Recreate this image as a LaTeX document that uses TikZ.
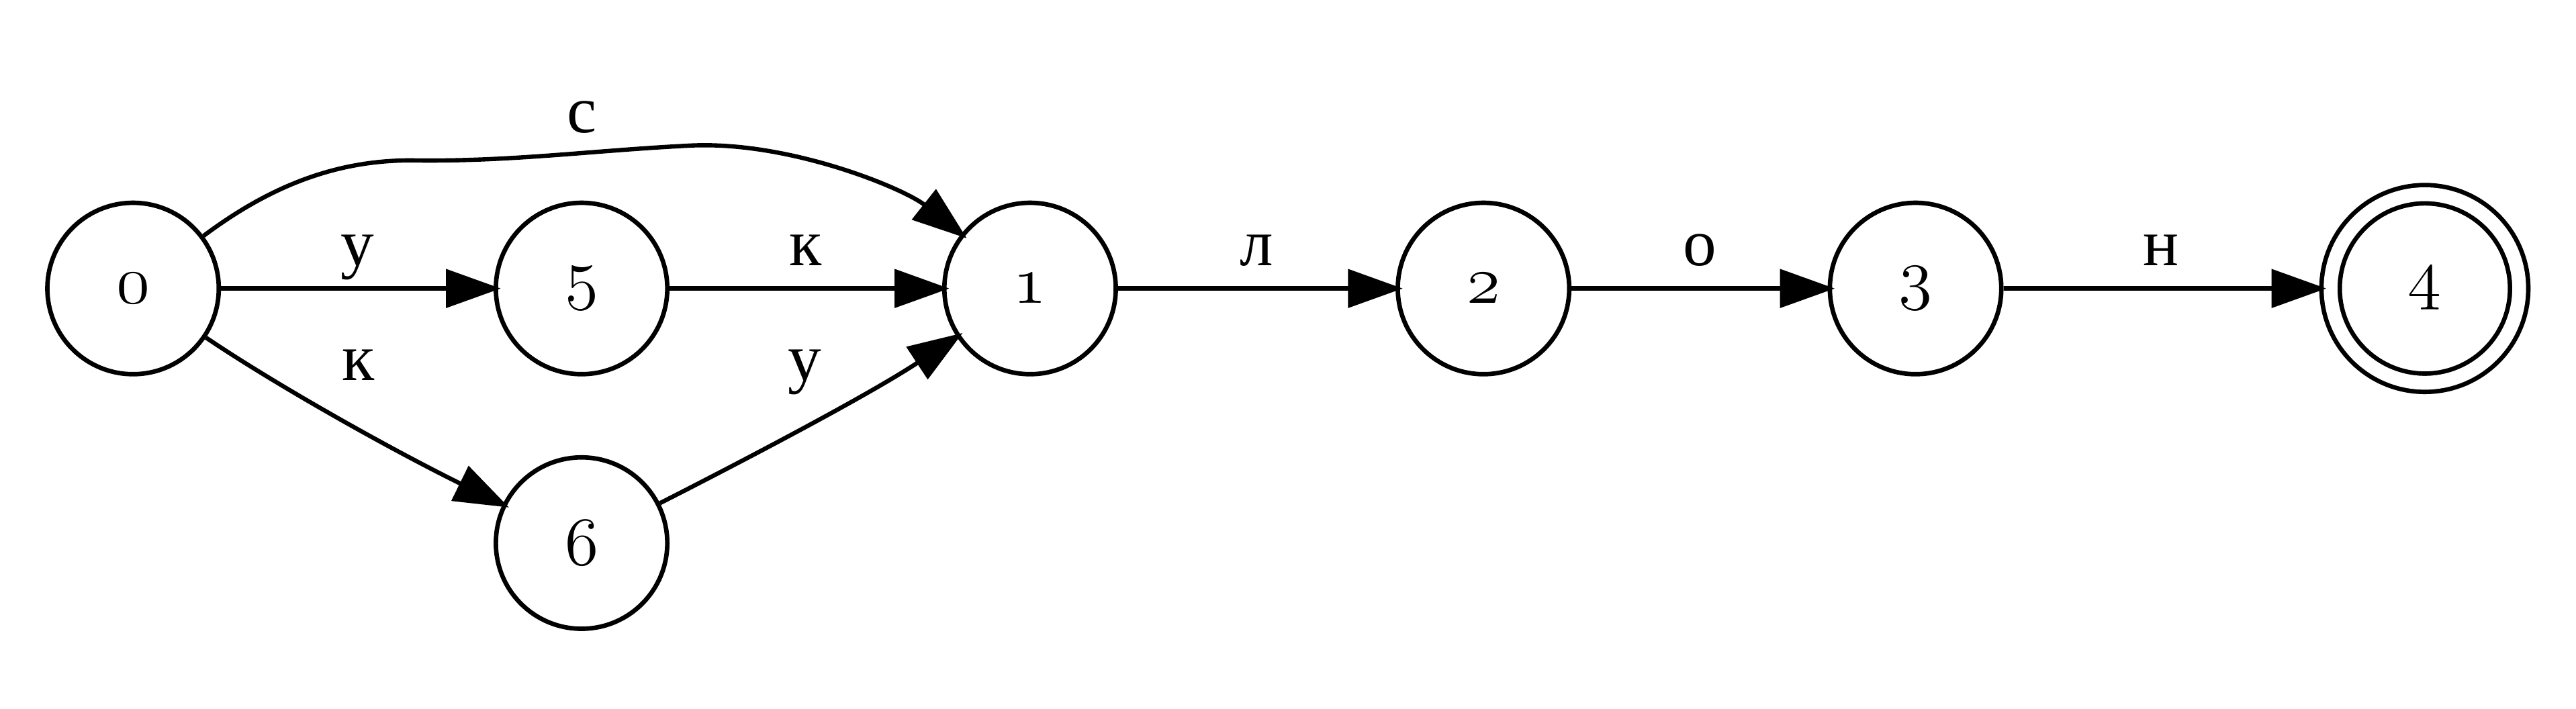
\documentclass[tikz,border=0pt]{standalone}
\usepackage{fontspec}
\setmainfont{Liberation Serif}
\usetikzlibrary{arrows.meta}
\tikzstyle{state}=[circle,draw,line width=0.94pt,minimum size=36pt,inner sep=0pt,font=\fontsize{14}{17}\selectfont]
\tikzstyle{accepting}=[state,double,double distance=2.9pt,minimum size=39.6pt,outer sep=2.4pt]
\tikzstyle{letter}=[anchor=base,inner sep=0pt,font=\fontsize{14}{17}\selectfont]
\tikzstyle{trans}=[line width=0.9pt,shorten >=-1.5pt,-{Triangle[length=11.5pt,width=8pt]}]

\begin{document}
\begin{tikzpicture}[x=0.345pt, y=0.345pt]
\useasboundingbox (0, 0) rectangle (1568, 431.65);
\node[state] at (81, 256) (s0) {$\mathnormal{0}$};
\node[state] at (354, 256) (s5) {$\mathnormal{5}$};
\node[state] at (354, 101) (s6) {$\mathnormal{6}$};
\node[state] at (627, 256) (s1) {$\mathnormal{1}$};
\node[state] at (903, 256) (s2) {$\mathnormal{2}$};
\node[state] at (1166, 256) (s3) {$\mathnormal{3}$};
\node[accepting] at (1476, 256) (s4) {$\mathnormal{4}$};
\draw[trans] (s0) edge node[letter, yshift=4.8pt] (l05) {у} (s5);
\draw[trans] (s5) edge node[letter, yshift=4.8pt] (l51) {к} (s1);
\draw[trans] (s1) edge node[letter, yshift=4.8pt] (l12) {л} (s2);
\draw[trans] (s2) edge node[letter, yshift=4.8pt] (l23) {о} (s3);
\draw[trans] (s3) edge node[letter, yshift=4.8pt] (l34) {н} (s4);

\draw[trans] (s0) .. controls (160, 315) and (200, 334) .. (250, 334)
  .. controls (310, 333) and (360, 340) .. (420, 343)
  .. controls (480, 346) and (550, 317) .. (s1);
\draw[trans] (s0) .. controls (170, 196) and (240, 157) .. (s6);
\draw[trans] (s6) .. controls (460, 155) and (530, 192) .. (s1);
\node[letter] at (354, 351) (l01) {с};
\node[letter] at (218, 200) (l06) {к};
\node[letter] at (490, 200) (l61) {у};

\end{tikzpicture}
\end{document}
